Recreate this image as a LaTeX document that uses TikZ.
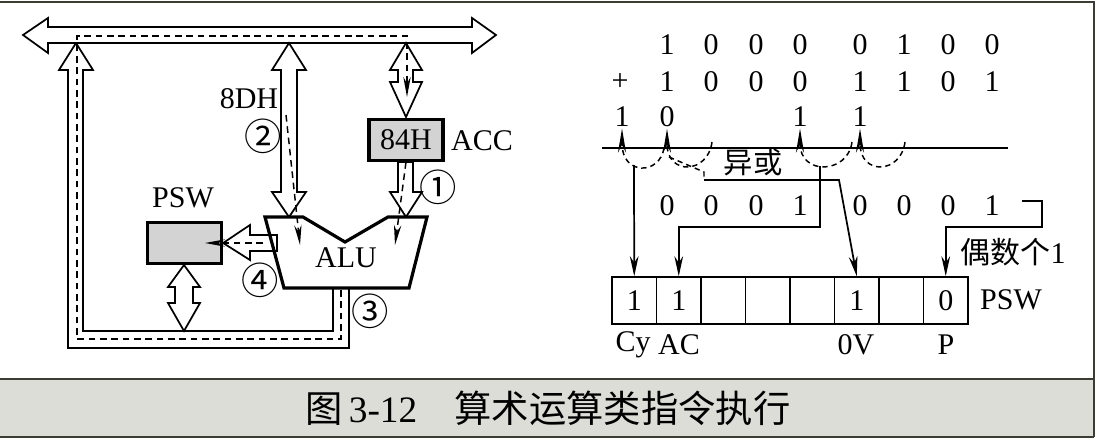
\documentclass[tikz,border=0pt]{standalone}
\usepackage{fontspec}
\setmainfont{Liberation Serif}
\newfontfamily\cjk{Noto Sans CJK SC}
\usetikzlibrary{arrows.meta}

\begin{document}
\begin{tikzpicture}[x=0.75pt,y=0.75pt,yscale=-1,xscale=1,
  every node/.style={font=\fontsize{22.5}{24}\selectfont, inner sep=1pt},
  pipe/.style={draw, line width=1.3pt, fill=white, line join=miter},
  flow/.style={line width=1.1pt, dash pattern=on 5pt off 3.5pt, -{Stealth[length=15pt,width=5.5pt]}},
  reg/.style={draw, line width=2.4pt, fill={rgb,255:red,211;green,211;blue,211}, minimum width=55.5pt, minimum height=30.75pt, inner sep=0pt},
  circnum/.style={font=\cjk\fontsize{28}{28}\selectfont},
  cell/.style={draw, line width=1.2pt, minimum width=33.4pt, minimum height=35.25pt, inner sep=0pt},
  wire/.style={line width=1.3pt},
  wirearrow/.style={wire, -{Stealth[length=15pt,width=6.5pt]}},
  carry/.style={line width=1.1pt, dash pattern=on 4pt off 3pt}
]
\useasboundingbox (0,0) rectangle (1097,443);

%Frame and caption bar
\fill[fill={rgb,255:red,221;green,221;blue,216}] (0,379) rectangle (1094,437);
\draw[line width=1.5pt, color={rgb,255:red,60;green,60;blue,50}] (0,2) -- (1094,2) -- (1094,437);
\draw[line width=1.5pt, color={rgb,255:red,60;green,60;blue,50}] (0,379) -- (1094,379);
\draw[line width=1.5pt, color={rgb,255:red,60;green,60;blue,50}] (0,437) -- (1094,437);
% Text Node
\node (cap) at (548,408) {\cjk\fontsize{28}{30}\selectfont 图\,{\rmfamily 3-12}\quad 算术运算类指令执行};

%Shape: Return pipe from ALU to bus
\draw[pipe] (333,288) -- (333,331) -- (83,331) -- (83,70) -- (93,70) -- (76,43) -- (59,70) -- (68,70) -- (68,348) -- (349,348) -- (349,288);
%Shape: Bus
\draw[pipe] (23,35) -- (48,18) -- (48,27) -- (472,27) -- (472,18) -- (496,35) -- (472,53) -- (472,43) -- (48,43) -- (48,53) -- cycle;
%Shape: Bus to ALU (8DH)
\draw[pipe] (289,43) -- (306,70) -- (297,70) -- (297,192) -- (306,192) -- (289,217) -- (272,192) -- (281,192) -- (281,70) -- (272,70) -- cycle;
%Shape: Bus to ACC
\draw[pipe] (406,43) -- (422,70) -- (413,70) -- (413,82) -- (422,82) -- (406,117) -- (390,82) -- (398,82) -- (398,70) -- (390,70) -- cycle;
%Shape: ACC
\node[reg] (acc) at (406,140) {84H};
%Shape: ACC to ALU
\draw[pipe] (398,162) -- (413,162) -- (413,192) -- (422,192) -- (406,217) -- (390,192) -- (398,192) -- cycle;
%Shape: PSW to bus
\draw[pipe] (184,265) -- (200,287) -- (193,287) -- (193,303) -- (200,303) -- (184,331) -- (168,303) -- (175,303) -- (175,287) -- (168,287) -- cycle;

%Shape: ALU
\draw[line width=2.4pt, fill=white, line join=miter] (265,217) -- (303,217) -- (345,242) -- (388,217) -- (427,217) -- (409,288) -- (284,288) -- cycle;
\node (alu) at (346,258) {ALU};
%Shape: PSW
\node[reg] (psw) at (184.5,243) {};
%Shape: ALU to PSW
\draw[line width=1.3pt, line join=miter] (277,235) -- (250,235) -- (250,225) -- (psw.east) -- (250,260) -- (250,251) -- (277,251) -- cycle;

%Dashed flows
\draw[flow] (286,115) -- (300,245);
\draw[flow] (acc.south) -- (395,245);
\draw[flow] (341,290) -- (341,339) -- (77,339) -- (77,36) -- (407,36) -- (407,97);
\draw[flow] (263,243) -- (205,243);

% Text Node
\node (dh) at (249,99) {8DH};
\node[circnum] (n2) at (263,136) {②};
\node (acclbl) at (482,141) {ACC};
\node[circnum] (n1) at (438,187) {①};
\node (pswlbl) at (183,198) {PSW};
\node[circnum] (n4) at (260,280) {④};
\node[circnum] (n3) at (370,311) {③};

%Addition
\foreach \x/\a/\b/\s [count=\i] in {667/1/1/0,711/0/0/0,756/0/0/0,800/0/0/1,860/0/1/0,904/1/1/0,948/0/0/0,992/0/1/1}{
  \node (a\i) at (\x,45) {\a};
  \node (b\i) at (\x,82) {\b};
  \node (s\i) at (\x,206) {\s};
}
\node (plus) at (620,82) {+};
\node (c0) at (622,117) {1};
\node (c1) at (667,117) {0};
\node (c4) at (800,117) {1};
\node (c5) at (860,117) {1};
\draw[line width=1.4pt] (602,148) -- (1008,148);

%Carries
\draw[carry, -{Stealth[length=18pt,width=6pt]}] (664,148) .. controls (660,175) and (622,176) .. (c0.south);
\draw[carry, -{Stealth[length=18pt,width=6pt]}] (712,142) .. controls (708,174) and (667,176) .. (c1.south);
\draw[carry, -{Stealth[length=18pt,width=6pt]}] (852,142) .. controls (848,174) and (800,176) .. (c4.south);
\draw[carry, -{Stealth[length=18pt,width=6pt]}] (905,142) .. controls (901,174) and (860,176) .. (c5.south);
\draw[carry] (669,157) -- (704,172) -- (704,180);
\node (xor) at (753,162) {\cjk\fontsize{22}{22}\selectfont 异或};

%PSW register
\foreach \v [count=\i] in {1,1,{},{},{},1,{},0}
  \node[cell] (f\i) at ({612+44.5*(\i-0.5)},300.5) {\v};
\node (pswreg) at (1011,300) {PSW};
\node (cy) at (633,345) {Cy};
\node (ac) at (679,345) {AC};
\node (ov) at (856,345) {0V};
\node (p) at (946,345) {P};

%Flag connectors
\coordinate (cyfrom) at (634,165);
\coordinate (acfrom) at (820,166);
\coordinate (ovfrom) at (704,180);
\coordinate (pfrom) at (1022,201);
\draw[wirearrow] (cyfrom) -- (f1.north);
\draw[wirearrow] (acfrom) -- (820,227) -| (f2.north);
\draw[wirearrow] (ovfrom) -- (839,180) -- (f6.north);
\draw[wirearrow] (pfrom) -- (1042,201) -- (1042,227) -| (f8.north);
\node (even) at (1013,252) {{\cjk 偶数个}1};

\end{tikzpicture}
\end{document}
